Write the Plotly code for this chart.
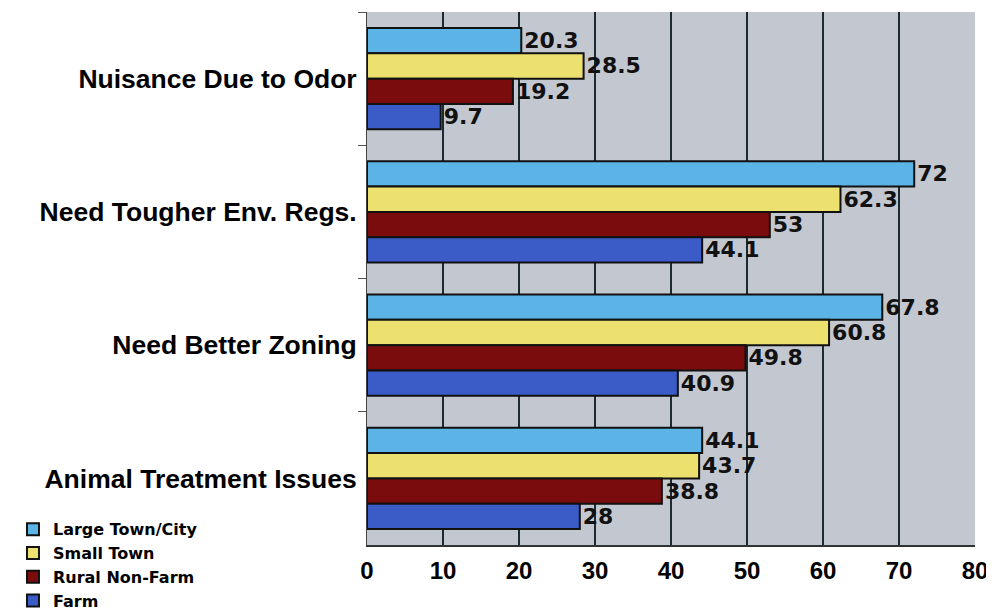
import plotly.graph_objects as go

categories = ["Nuisance Due to Odor", "Need Tougher Env. Regs.", "Need Better Zoning", "Animal Treatment Issues"]
series_names = ["Large Town/City", "Small Town", "Rural Non-Farm", "Farm"]
large_town = [20.3, 72, 67.8, 44.1]
small_town = [28.5, 62.3, 60.8, 43.7]
rural_nonfarm = [19.2, 53, 49.8, 38.8]
farm = [9.7, 44.1, 40.9, 28]
x_ticks = [0, 10, 20, 30, 40, 50, 60, 70, 80]

colors = ["#5cb3e6", "#ece06e", "#7a0c0e", "#3b5bc6"]
series = [large_town, small_town, rural_nonfarm, farm]

FONT = "Liberation Sans, Arial, sans-serif"
WIDE = "DejaVu Sans, Verdana, sans-serif"

fig = go.Figure()
for name, vals, col in zip(series_names, series, colors):
    fig.add_trace(go.Bar(
        y=categories, x=vals, name=name, orientation="h",
        marker=dict(color=col, line=dict(color="#111111", width=2)),
        text=["%g" % v for v in vals], textposition="outside",
        textfont=dict(family=WIDE, size=22, color="#111111", weight="bold"),
        cliponaxis=False,
    ))

fig.update_layout(
    width=994, height=612,
    margin=dict(l=359, r=27, t=4, b=75, autoexpand=False),
    paper_bgcolor="white",
    plot_bgcolor="#c3c7cf",
    barmode="group",
    bargap=0.24,
    bargroupgap=0.0,
    font=dict(family=FONT, color="black"),
    legend=dict(
        xref="container", yref="container", x=0.005, y=0.176,
        xanchor="left", yanchor="top",
        font=dict(family=WIDE, size=16, color="black", weight="bold"),
        bgcolor="rgba(0,0,0,0)", itemwidth=30, tracegroupgap=0,
    ),
    xaxis=dict(
        range=[0, 80], tickvals=x_ticks, showgrid=True,
        gridcolor="#1b2a2e", gridwidth=2,
        showline=True, linecolor="#333333", linewidth=2,
        zeroline=False, automargin=False,
        tickfont=dict(family=FONT, size=24, color="black", weight="bold"),
        ticks="", ticklabelstandoff=3,
    ),
    yaxis=dict(
        autorange="reversed", automargin=False,
        showline=True, linecolor="#444444", linewidth=1,
        ticks="outside", tickson="boundaries", ticklen=8, tickcolor="#555555",
        showgrid=False,
        tickfont=dict(family=FONT, size=26.5, color="black", weight="bold"),
        ticklabelstandoff=4,
    ),
)

fig.write_html("out.html")
